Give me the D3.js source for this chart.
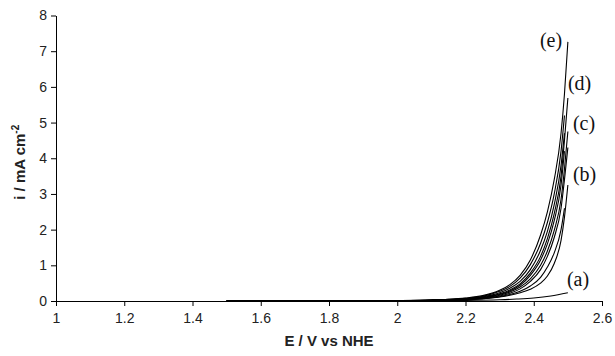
<!DOCTYPE html>
<html>
<head>
<meta charset="utf-8">
<script src="https://cdn.jsdelivr.net/npm/d3@7"></script>
<style>
  body { margin: 0; background: #fff; }
  svg { display: block; }
</style>
</head>
<body>
<div id="chart"></div>
<script>
// potential grid (V vs NHE) shared by the bundle curves
const potentials = [1.5, 1.7, 1.9, 2.0, 2.1, 2.15, 2.2, 2.25, 2.3, 2.33, 2.36, 2.39, 2.42, 2.44, 2.46, 2.48, 2.49, 2.5];

// current densities (mA cm-2)
const curveE  = [0, 0.002, 0.006, 0.012, 0.03, 0.05, 0.085, 0.15, 0.3, 0.46, 0.72, 1.15, 1.85, 2.5, 3.4, 4.7, 5.8, 7.26];
const curveE2 = [0, 0.002, 0.006, 0.011, 0.027, 0.045, 0.075, 0.13, 0.27, 0.41, 0.64, 1.02, 1.62, 2.2, 3.0, 4.2, 5.2];
const curveX  = [0, 0.002, 0.005, 0.01, 0.024, 0.04, 0.066, 0.115, 0.23, 0.36, 0.55, 0.88, 1.42, 1.95, 2.7, 3.8, 4.7];
const curveD  = [0, 0.002, 0.005, 0.01, 0.022, 0.035, 0.06, 0.1, 0.2, 0.31, 0.48, 0.78, 1.25, 1.75, 2.45, 3.5, 4.5, 5.69];
const curveD2 = [0, 0.002, 0.005, 0.009, 0.02, 0.032, 0.055, 0.092, 0.18, 0.28, 0.44, 0.72, 1.15, 1.6, 2.25, 3.25, 4.2];
const curveC  = [0, 0.001, 0.004, 0.008, 0.018, 0.03, 0.05, 0.085, 0.16, 0.25, 0.39, 0.62, 1.0, 1.4, 1.98, 2.85, 3.7, 4.75];
const curveC2 = [0, 0.001, 0.003, 0.007, 0.016, 0.027, 0.045, 0.075, 0.14, 0.22, 0.34, 0.55, 0.88, 1.25, 1.78, 2.6, 3.4, 4.3];
const curveB2 = [0, 0.001, 0.003, 0.006, 0.013, 0.022, 0.035, 0.065, 0.12, 0.18, 0.27, 0.42, 0.66, 0.95, 1.35, 2.0, 2.6];
const curveB  = [0, 0.001, 0.003, 0.006, 0.012, 0.02, 0.03, 0.06, 0.11, 0.16, 0.23, 0.33, 0.5, 0.7, 1.05, 1.7, 2.35, 3.25];

// curve (a) on its own grid
const potentialsA = [1.5, 1.8, 2.0, 2.1, 2.2, 2.3, 2.35, 2.4, 2.45, 2.5];
const curveA      = [0, 0.001, 0.003, 0.008, 0.015, 0.035, 0.055, 0.085, 0.14, 0.23];

const xTicks = [1, 1.2, 1.4, 1.6, 1.8, 2, 2.2, 2.4, 2.6];
const yTicks = [0, 1, 2, 3, 4, 5, 6, 7, 8];

const labels = ['(e)', '(d)', '(c)', '(b)', '(a)'];
const labelAt = [[2.5, 7.26], [2.5, 5.69], [2.5, 4.75], [2.5, 3.25], [2.5, 0.23]];

const sans = "'Liberation Sans', Arial, sans-serif";
const serif = "'Liberation Serif', 'Times New Roman', serif";

const width = 615, height = 356;
const margin = {top: 15.5, right: 13, bottom: 55, left: 56};

const svg = d3.select('#chart').append('svg')
  .attr('width', width)
  .attr('height', height);

const x = d3.scaleLinear().domain([1, 2.6]).range([margin.left, width - margin.right]);
const y = d3.scaleLinear().domain([0, 8]).range([height - margin.bottom, margin.top]);

const toPts = (es, is) => is.map((v, i) => [es[i], v]);
const series = [curveE, curveE2, curveX, curveD, curveD2, curveC, curveC2, curveB2, curveB]
  .map(c => toPts(potentials, c));
series.push(toPts(potentialsA, curveA));

const line = d3.line()
  .x(d => x(d[0]))
  .y(d => y(d[1]))
  .curve(d3.curveMonotoneX);

// axes
svg.append('g')
  .attr('transform', `translate(0,${ y(0) })`)
  .call(d3.axisBottom(x).tickValues(xTicks).tickFormat(d3.format('')).tickSize(5).tickSizeOuter(5).tickPadding(7))
  .call(g => g.selectAll('text').attr('font-size', 14).attr('font-family', sans).attr('fill', '#222'));

svg.append('g')
  .attr('transform', `translate(${ x(1) },0)`)
  .call(d3.axisLeft(y).tickValues(yTicks).tickSize(5).tickSizeOuter(0).tickPadding(4))
  .call(g => g.selectAll('text').attr('font-size', 14).attr('font-family', sans).attr('fill', '#222'));

svg.selectAll('.domain, .tick line').attr('stroke', '#000');

// curves
svg.append('g')
  .selectAll('path')
  .data(series)
  .join('path')
  .attr('d', line)
  .attr('fill', 'none')
  .attr('stroke', '#000')
  .attr('stroke-width', 1.1);

// curve labels
const labelOffset = [[-28, 5], [0, -8], [5, -1], [5, -4], [-1, -7]];
svg.append('g')
  .selectAll('text')
  .data(labels)
  .join('text')
  .attr('x', (d, i) => x(labelAt[i][0]) + labelOffset[i][0])
  .attr('y', (d, i) => y(labelAt[i][1]) + labelOffset[i][1])
  .attr('font-family', serif)
  .attr('font-size', 20)
  .attr('fill', '#111')
  .text(d => d);

// axis titles
svg.append('text')
  .attr('x', (x(1) + x(2.6)) / 2)
  .attr('y', 346)
  .attr('text-anchor', 'middle')
  .attr('font-family', sans)
  .attr('font-weight', 'bold')
  .attr('font-size', 15)
  .attr('fill', '#222')
  .text('E / V vs NHE');

const yTitle = svg.append('text')
  .attr('transform', `translate(25,${ (y(0) + y(8)) / 2 + 4 }) rotate(-90)`)
  .attr('text-anchor', 'middle')
  .attr('font-family', sans)
  .attr('font-weight', 'bold')
  .attr('font-size', 15)
  .attr('fill', '#222');
yTitle.append('tspan').text('i / mA cm');
yTitle.append('tspan').attr('dy', -6).attr('font-size', 10).text('-2');
</script>
</body>
</html>
